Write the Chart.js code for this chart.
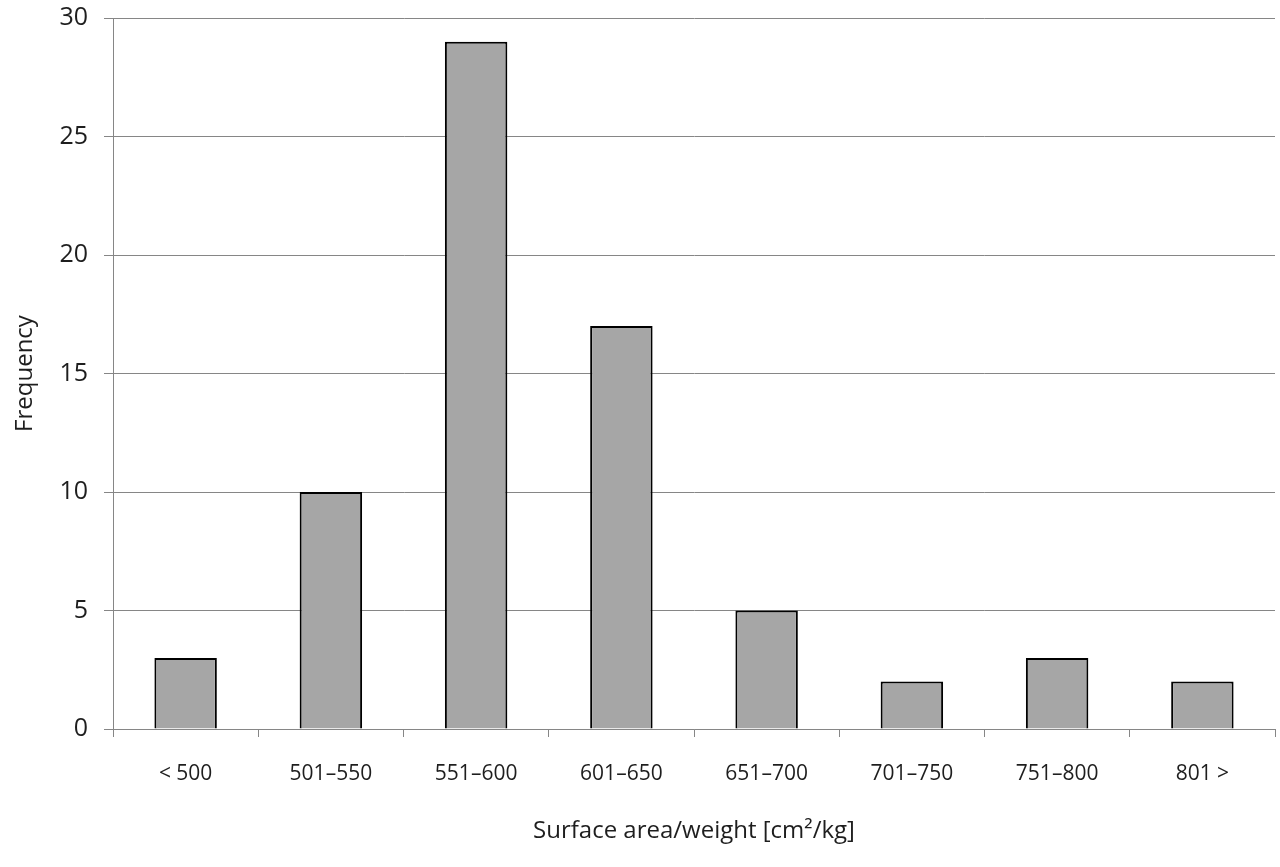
<!DOCTYPE html>
<html>
<head>
<meta charset="utf-8">
<script src="https://cdn.jsdelivr.net/npm/chart.js@4"></script>
<style>
  html, body { margin: 0; padding: 0; background: #fff; }
  #wrap { width: 1280px; height: 867px; }
</style>
</head>
<body>
<div id="wrap"><canvas id="histChart"></canvas></div>
<script>
const categories = ['< 500', '501–550', '551–600', '601–650', '651–700', '701–750', '751–800', '801 >'];
const frequency = [3, 10, 29, 17, 5, 2, 3, 2];
const yTicks = [0, 5, 10, 15, 20, 25, 30];

const gridGray = '#868686';
const textColor = '#1e1e1e';

const ctx = document.getElementById('histChart').getContext('2d');

new Chart(ctx, {
    type: 'bar',
    data: {
        labels: categories,
        datasets: [{
            label: 'Frequency',
            data: frequency,
            backgroundColor: '#a6a6a6',
            borderColor: '#000',
            borderWidth: 2,
            categoryPercentage: 1,
            barPercentage: 0.43
        }]
    },
    options: {
        responsive: true,
        maintainAspectRatio: false,
        animation: false,
        layout: { padding: { top: 18, right: 5, left: 0, bottom: 0 } },
        plugins: {
            legend: { display: false },
            tooltip: { enabled: false }
        },
        scales: {
            x: {
                offset: true,
                grid: {
                    offset: true,
                    drawOnChartArea: false,
                    drawTicks: true,
                    tickLength: 8,
                    color: gridGray
                },
                border: { color: gridGray, width: 1 },
                ticks: {
                    color: textColor,
                    padding: 24,
                    maxRotation: 0,
                    font: { family: 'Open Sans', size: 21 }
                },
                title: {
                    display: true,
                    text: 'Surface area/weight [cm²/kg]',
                    color: textColor,
                    padding: { top: 0, bottom: 21 },
                    font: { family: 'Open Sans', size: 24 }
                },
                afterFit: scale => {
                    scale.height = 138;
                    scale.paddingLeft = 0;
                    scale.paddingRight = 0;
                }
            },
            y: {
                min: 0,
                max: 30,
                afterBuildTicks: scale => {
                    scale.ticks = yTicks.map(v => ({ value: v }));
                },
                grid: {
                    color: gridGray,
                    lineWidth: 1,
                    tickLength: 9
                },
                border: { color: gridGray, width: 1 },
                ticks: {
                    color: textColor,
                    padding: 16,
                    font: { family: 'Open Sans', size: 25 }
                },
                title: {
                    display: true,
                    text: 'Frequency',
                    color: textColor,
                    padding: { top: 11, bottom: 0 },
                    font: { family: 'Open Sans', size: 24 }
                },
                afterFit: scale => {
                    scale.width = 113;
                    scale.paddingTop = 0;
                    scale.paddingBottom = 0;
                }
            }
        }
    }
});
</script>
</body>
</html>
